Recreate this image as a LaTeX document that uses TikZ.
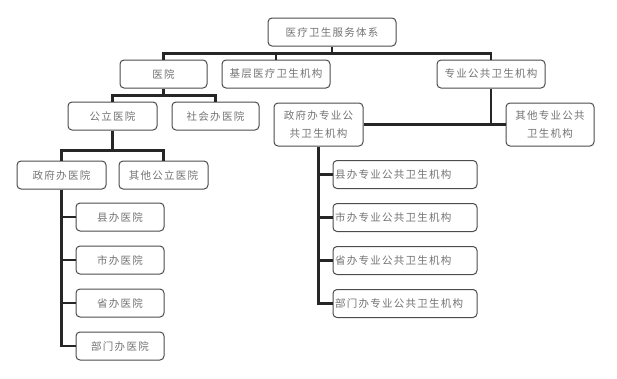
\documentclass[tikz,border=0pt]{standalone}
\usepackage{fontspec}
\newfontfamily\cjk[LetterSpace=12]{Noto Sans CJK SC}
\usetikzlibrary{positioning}
\tikzset{
  box/.style={draw=black!70, rounded corners=4pt, align=center, minimum height=28pt, line width=1pt, text=black!55, inner sep=2pt, font=\cjk\fontsize{10.5}{18}\selectfont},
  leftbox/.style={box, text width=140pt, align=left},
  line/.style={line width=2.6pt, draw=black!85}
}

\begin{document}
\begin{tikzpicture}[x=1pt, y=-1pt]
    \useasboundingbox (0,0) rectangle (617,378);
    \node[box, minimum width=128pt] (system) at (332,32) {医疗卫生服务体系};
    \node[box, minimum width=87pt] (hosp) at (163.5,74) {医院};
    \node[box, minimum width=108pt] (basic) at (276,74) {基层医疗卫生机构};
    \node[box, minimum width=108pt] (pubhealth) at (491,74) {专业公共卫生机构};
    \node[box, minimum width=89pt] (publichosp) at (112.5,116) {公立医院};
    \node[box, minimum width=87pt] (socialhosp) at (215.5,116) {社会办医院};
    \node[box, minimum width=89pt, minimum height=43pt] (govpub) at (318.5,124.5) {政府办专业公\\共卫生机构};
    \node[box, minimum width=88pt, minimum height=43pt] (otherpub) at (550,124.5) {其他专业公共\\卫生机构};
    \node[box, minimum width=89pt] (govhosp) at (61.5,175) {政府办医院};
    \node[box, minimum width=89pt] (otherhosp) at (163.5,175) {其他公立医院};
    \node[box, minimum width=88pt] (countyhosp) at (120,217) {县办医院};
    \node[box, minimum width=88pt, below=14pt of countyhosp] (cityhosp) {市办医院};
    \node[box, minimum width=88pt, below=14pt of cityhosp] (provhosp) {省办医院};
    \node[box, minimum width=88pt, below=14pt of provhosp] (depthosp) {部门办医院};
    \node[leftbox] (countypub) at (405,174.5) {县办专业公共卫生机构};
    \node[leftbox, below=14pt of countypub] (citypub) {市办专业公共卫生机构};
    \node[leftbox, below=14pt of citypub] (provpub) {省办专业公共卫生机构};
    \node[leftbox, below=14pt of provpub] (deptpub) {部门办专业公共卫生机构};
    \draw[line] (system.south) -- ++(0,7) coordinate (topbar);
    \draw[line] (hosp.north) |- (topbar) -| (pubhealth.north);
    \draw[line] (basic.north) -- (basic.north |- topbar);
    \draw[line] (hosp.south) -- ++(0,7) coordinate (hospbar);
    \draw[line] (publichosp.north) |- (hospbar) -| (socialhosp.north);
    \draw[line] (publichosp.south) -- ++(0,20) coordinate (publicbar);
    \draw[line] (govhosp.north) |- (publicbar) -| (otherhosp.north);
    \draw[line] (govhosp.south) |- (depthosp.west);
    \foreach \n in {countyhosp,cityhosp,provhosp}
      \draw[line] (govhosp.south |- \n.west) -- (\n.west);
    \draw[line] (pubhealth.south) -- (pubhealth.south |- govpub.east);
    \draw[line] (govpub.east) -- (otherpub.west);
    \draw[line] (govpub.south) |- (deptpub.west);
    \foreach \n in {countypub,citypub,provpub}
      \draw[line] (govpub.south |- \n.west) -- (\n.west);
  \end{tikzpicture}
\end{document}
